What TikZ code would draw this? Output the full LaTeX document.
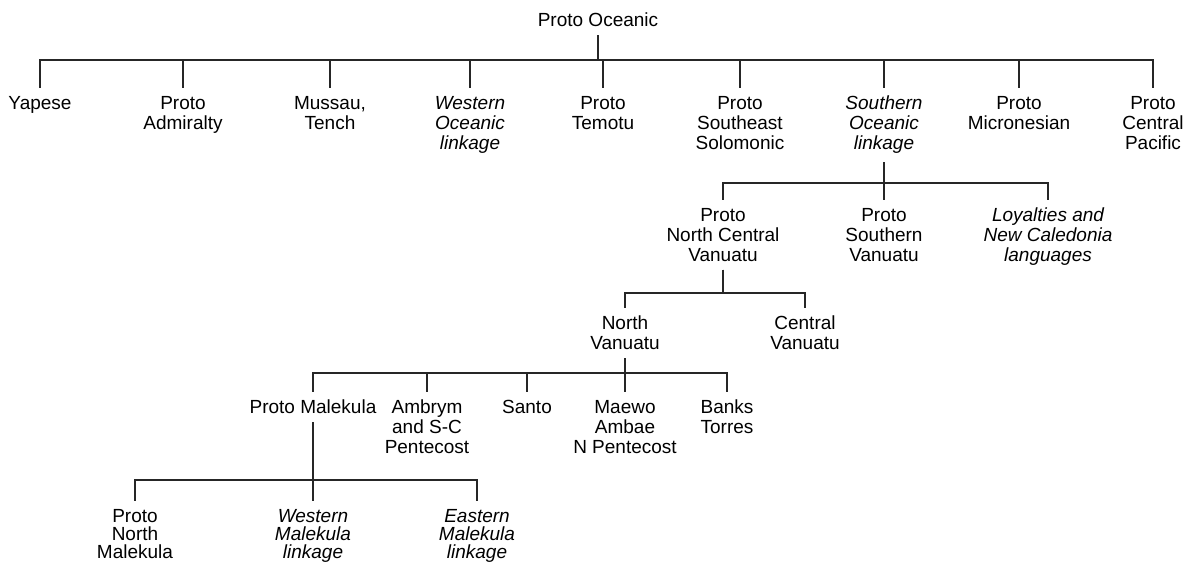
\documentclass[tikz,border=0pt]{standalone}
\usepackage{fontspec}
\setmainfont{Liberation Sans}
\begin{document}
\begin{tikzpicture}[x=1pt,y=-1pt,line width=1.3pt]
\tikzset{
  lang/.style={anchor=north,align=center,inner xsep=2pt,inner ysep=7.5pt,font=\fontsize{19}{20}\selectfont},
  linkage/.style={lang,font=\fontsize{19}{20}\selectfont\itshape},
  branch/.style={draw=black!85,line width=1.3pt}
}
\useasboundingbox (0,0) rectangle (1192,564);
% bar heights
\coordinate (b1) at (0,60);
\coordinate (b2) at (0,183);
\coordinate (b3) at (0,293);
\coordinate (b4) at (0,373);
\coordinate (b5) at (0,480);
\node[lang,anchor=center] (oceanic) at (598,20) {Proto Oceanic};
% first level
\node[lang] (yapese) at (40,88) {Yapese};
\node[lang] (admiralty) at (183,88) {Proto\\Admiralty};
\node[lang] (mussau) at (330,88) {Mussau,\\Tench};
\node[linkage] (westoc) at (470,88) {Western\\Oceanic\\linkage};
\node[lang] (temotu) at (603,88) {Proto\\Temotu};
\node[lang] (solomonic) at (740,88) {Proto\\Southeast\\Solomonic};
\node[linkage] (southoc) at (884,88) {Southern\\Oceanic\\linkage};
\node[lang] (micronesian) at (1019,88) {Proto\\Micronesian};
\node[lang] (centralpac) at (1153,88) {Proto\\Central\\Pacific};
% southern oceanic
\node[lang] (ncv) at (723,200) {Proto\\North Central\\Vanuatu};
\node[lang] (sv) at (884,200) {Proto\\Southern\\Vanuatu};
\node[linkage] (loyalties) at (1048,200) {Loyalties and\\New Caledonia\\languages};
% north central vanuatu
\node[lang] (nv) at (625,308) {North\\Vanuatu};
\node[lang] (cv) at (805,308) {Central\\Vanuatu};
% north vanuatu
\node[lang] (malekula) at (313,392) {Proto Malekula};
\node[lang] (ambrym) at (427,392) {Ambrym\\and S-C\\Pentecost};
\node[lang] (santo) at (527,392) {Santo};
\node[lang] (maewo) at (625,392) {Maewo\\Ambae\\N Pentecost};
\node[lang] (banks) at (727,392) {Banks\\Torres};
% malekula
\node[lang] (pnm) at (135,501) {Proto\\[-2pt]North\\[-2pt]Malekula};
\node[linkage] (wm) at (313,501) {Western\\[-2pt]Malekula\\[-2pt]linkage};
\node[linkage] (em) at (477,501) {Eastern\\[-2pt]Malekula\\[-2pt]linkage};
% branches
\foreach \c in {yapese,admiralty,mussau,westoc,temotu,solomonic,southoc,micronesian,centralpac}
  \draw[branch] (oceanic.south) -- (oceanic.south |- b1) -| (\c.north);
\foreach \c in {ncv,sv,loyalties}
  \draw[branch] (southoc.south) -- (southoc.south |- b2) -| (\c.north);
\foreach \c in {nv,cv}
  \draw[branch] (ncv.south) -- (ncv.south |- b3) -| (\c.north);
\foreach \c in {malekula,ambrym,santo,maewo,banks}
  \draw[branch] (nv.south) -- (nv.south |- b4) -| (\c.north);
\foreach \c in {pnm,wm,em}
  \draw[branch] (malekula.south) -- (malekula.south |- b5) -| (\c.north);
\end{tikzpicture}
\end{document}
